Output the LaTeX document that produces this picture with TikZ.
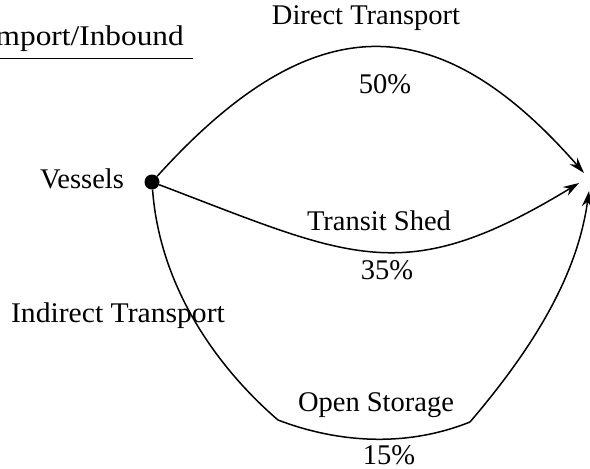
\documentclass[tikz,border=0pt]{standalone}
\usepackage{fontspec}
\setmainfont{Liberation Serif}
\usetikzlibrary{arrows.meta}
\begin{document}
\begin{tikzpicture}[x=1pt,y=-1pt,
  lbl/.style={font=\fontsize{28.5}{32}\selectfont, inner sep=0pt},
  flow/.style={line width=1.5pt, -{Stealth[length=16pt,width=10pt]}},
  plain/.style={line width=1.5pt}]
\useasboundingbox (0,0) rectangle (590,469);
% title
\node[lbl, anchor=base east] (title) at (184,45) {\scalebox{1.1}[1]{Import/Inbound}};
\coordinate (ulL) at (-20,58);
\coordinate (ulR) at (193,58);
\draw[line width=1pt] (ulL) -- (ulR);
% vessels
\node[circle, fill=black, inner sep=0pt, minimum size=15pt] (v) at (152,182) {};
\node[lbl] (vess) at (82,179) {Vessels};
% targets
\coordinate (t1) at (584,173);
\coordinate (t2) at (579,183);
\coordinate (t3) at (589,191);
\coordinate (c1) at (278,420);
\coordinate (c2) at (470,422);
% direct
\draw[flow] (v) .. controls (312,5) and (437,5) .. (t1);
\node[lbl] (dt) at (366,18) {Direct Transport};
\node[lbl] (p50) at (385,84) {50\%};
% transit shed
\draw[flow] (v) .. controls (352,258) and (403,290) .. (t2);
\node[lbl] (ts) at (379,221) {Transit Shed};
\node[lbl] (p35) at (387,270) {35\%};
% indirect
\draw[plain] (v) .. controls (160,290) and (220,370) .. (c1);
\draw[plain] (c1) .. controls (330,440) and (400,450) .. (c2);
\draw[flow] (c2) .. controls (540,340) and (578,270) .. (t3);
\node[lbl] (it) at (118,316) {\scalebox{1.04}[1]{Indirect Transport}};
\node[lbl] (os) at (376,405) {Open Storage};
\node[lbl] (p15) at (389,455) {15\%};
\end{tikzpicture}
\end{document}
